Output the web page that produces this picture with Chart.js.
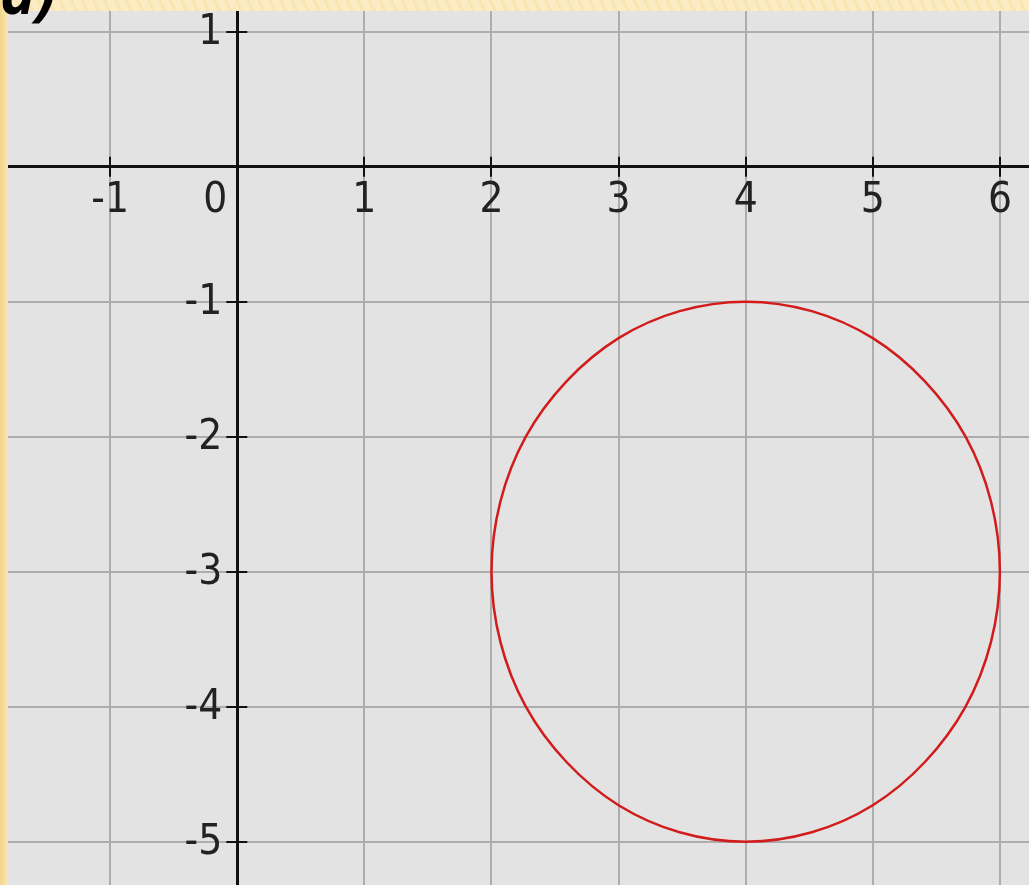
<!DOCTYPE html>
<html>
<head>
<meta charset="utf-8">
<script src="https://cdn.jsdelivr.net/npm/chart.js@4"></script>
<style>
  html, body { margin: 0; padding: 0; }
  body {
    width: 1029px; height: 885px; overflow: hidden; position: relative;
    background: #fcebbf repeating-linear-gradient(65deg, #fcecc3 0 7px, #f9e4b2 7px 10px);
  }
  #edge {
    position: absolute; left: 0; top: 0; width: 8px; height: 885px;
    background: linear-gradient(90deg, #f2d48c, #fae6b4);
  }
  #box { position: absolute; left: 8px; top: 11px; width: 1021px; height: 874px; background: #e3e3e3; }
  #title {
    position: absolute; left: 0px; top: -39px; z-index: 2;
    font: italic bold 60px/60px "Open Sans", "DejaVu Sans", sans-serif; color: #000;
  }
</style>
</head>
<body>
<div id="edge"></div>
<div id="box"><canvas id="myChart"></canvas></div>
<div id="title">a)</div>
<script>
// punti della circonferenza (centro 4,-3 raggio 2)
// il primo e l'ultimo tratto si sovrappongono e vengono nascosti, cosi' la curva si chiude senza spigolo
const circleX = [5.93, 6.00, 5.93, 5.73, 5.41, 5.00, 4.52, 4.00, 3.48, 3.00, 2.59, 2.27, 2.07,
                 2.00, 2.07, 2.27, 2.59, 3.00, 3.48, 4.00, 4.52, 5.00, 5.41, 5.73, 5.93, 6.00, 5.93];
const circleY = [-3.52, -3.00, -2.48, -2.00, -1.59, -1.27, -1.07, -1.00, -1.07, -1.27, -1.59, -2.00, -2.48,
                 -3.00, -3.52, -4.00, -4.41, -4.73, -4.93, -5.00, -4.93, -4.73, -4.41, -4.00, -3.52, -3.00, -2.48];

// range visibile degli assi
const xRange = [-1.804, 6.229];
const yRange = [-5.321, 1.153];

const tickFont = { family: '"DejaVu Sans Condensed", "DejaVu Sans", sans-serif', size: 42 };
const labelColor = '#222';
const circleColor = '#d21c1c';

const ctx = document.getElementById('myChart');
const lastIdx = circleX.length - 1;

const data = {
  datasets: [{
    data: circleX.map((x, i) => ({ x: x, y: circleY[i] })),
    showLine: true,
    borderColor: circleColor,
    borderWidth: 2.5,
    pointRadius: 0,
    tension: 0.34,
    fill: false,
    segment: {
      borderColor: (c) => (c.p0DataIndex === 0 || c.p1DataIndex === lastIdx) ? 'rgba(0,0,0,0)' : circleColor
    }
  }]
};

// tacche nere che attraversano gli assi, etichette dell'asse y e "0"
const axisTicks = {
  id: 'axisTicks',
  afterDraw: (chart) => {
    const { ctx, scales: { x, y } } = chart;
    const ox = x.getPixelForValue(0);
    const oy = y.getPixelForValue(0);
    ctx.save();
    ctx.strokeStyle = '#111';
    ctx.lineWidth = 2;
    ctx.beginPath();
    x.ticks.forEach(t => {
      if (t.value === 0) return;
      const px = Math.round(x.getPixelForValue(t.value));
      ctx.moveTo(px, oy - 10);
      ctx.lineTo(px, oy + 10);
    });
    y.ticks.forEach(t => {
      if (t.value === 0) return;
      const py = Math.round(y.getPixelForValue(t.value));
      ctx.moveTo(ox - 11, py);
      ctx.lineTo(ox + 10, py);
    });
    ctx.stroke();

    ctx.fillStyle = labelColor;
    ctx.font = tickFont.size + 'px ' + tickFont.family;
    ctx.textBaseline = 'middle';
    ctx.textAlign = 'right';
    y.ticks.forEach(t => {
      if (t.value === 0) return;
      ctx.fillText(String(t.value), ox - 15, y.getPixelForValue(t.value) + 1);
    });
    ctx.textAlign = 'center';
    ctx.fillText('0', ox - 22, oy + 34);
    ctx.restore();
  }
};

const noPad = (scale) => {
  scale.paddingTop = 0; scale.paddingBottom = 0;
  scale.paddingLeft = 0; scale.paddingRight = 0;
};

new Chart(ctx, {
  type: 'scatter',
  data,
  options: {
    responsive: true,
    maintainAspectRatio: false,
    animation: false,
    layout: { padding: 0 },
    plugins: { legend: { display: false }, tooltip: { enabled: false } },
    scales: {
      x: {
        type: 'linear',
        position: { y: 0 },
        min: xRange[0], max: xRange[1],
        afterFit: noPad,
        grid: { color: '#adadad', lineWidth: 2, drawTicks: false },
        border: { color: '#111', width: 3 },
        ticks: {
          stepSize: 1, includeBounds: false, autoSkip: false, maxRotation: 0,
          padding: 9, color: labelColor, font: tickFont,
          callback: (v) => v === 0 ? '' : String(v)
        }
      },
      y: {
        type: 'linear',
        position: { x: 0 },
        min: yRange[0], max: yRange[1],
        afterFit: noPad,
        grid: { color: '#adadad', lineWidth: 2, drawTicks: false },
        border: { color: '#111', width: 3 },
        ticks: {
          display: false,
          stepSize: 1, includeBounds: false, autoSkip: false,
          color: labelColor, font: tickFont
        }
      }
    }
  },
  plugins: [axisTicks]
});
</script>
</body>
</html>
